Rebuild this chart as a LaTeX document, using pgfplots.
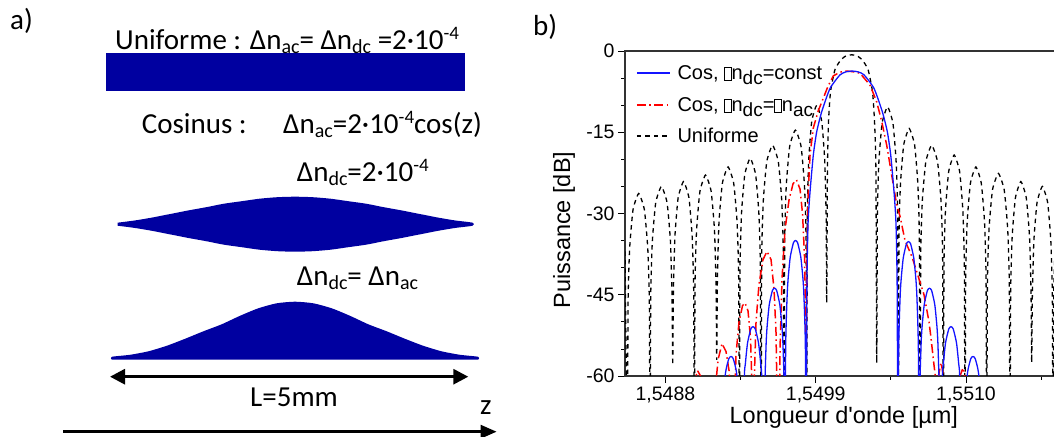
\documentclass[border=0pt]{standalone}
\usepackage{pgfplots}
\pgfplotsset{compat=1.18}
\usepackage{fontspec}
\setmainfont{Liberation Sans}
\newfontfamily\calibri{Carlito}
\usetikzlibrary{arrows.meta}
\definecolor{navy}{RGB}{0,0,160}
\definecolor{cblue}{RGB}{20,20,255}
\definecolor{cred}{RGB}{255,0,0}
\newcommand{\gbox}{{\setlength\fboxrule{0.45bp}\setlength\fboxsep{0pt}\fbox{\rule{0pt}{13bp}\hspace{6.5bp}}}}
\newcommand{\lsub}[1]{\raisebox{-5bp}{\fontsize{19bp}{19bp}\selectfont #1}}
\newcommand{\csub}[1]{\raisebox{-4bp}{\fontsize{20bp}{20bp}\selectfont #1}}
\newcommand{\csup}[1]{\raisebox{10bp}{\fontsize{19bp}{19bp}\selectfont #1}}
\begin{document}
\begin{tikzpicture}
\useasboundingbox (0,0) rectangle (1054bp,437bp);
% ---------------- panel a ----------------
\begin{axis}[at={(0bp,0bp)}, anchor=south west, scale only axis,
  width=530bp, height=437bp, xmin=0, xmax=530, ymin=0, ymax=437,
  y dir=reverse, hide axis, clip=false]
\addplot[fill=navy, draw=none] coordinates {(106,53.5) (465,53.5) (465,91.5) (106,91.5)} --cycle;
\addplot[fill=navy, draw=none, smooth, tension=0.4] coordinates {
(117.5,222.7) (135.25,220.4) (153,217.4) (170.75,213.9) (188.5,210.4) (206.25,207.2)
(224,203.7) (241.75,201.2) (259.5,198.7) (277.25,197.2) (295,196.7) (312.75,197.2)
(330.5,198.7) (348.25,201.2) (366,203.7) (383.75,207.2) (401.5,210.4) (419.25,213.9)
(437,217.4) (454.75,220.4) (472.5,222.7) (472.5,225.7) (454.75,228) (437,231)
(419.25,234.5) (401.5,238) (383.75,241.2) (366,244.7) (348.25,247.2) (330.5,249.7)
(312.75,251.2) (295,251.7) (277.25,251.2) (259.5,249.7) (241.75,247.2) (224,244.7)
(206.25,241.2) (188.5,238) (170.75,234.5) (153,231) (135.25,228) (117.5,225.7)} --cycle;
\addplot[fill=navy, draw=none, smooth, tension=0.4] coordinates {
(111.7,359.5) (111.7,356.8) (130,354.8) (148.4,351.3) (166.7,345.8) (185,338.8) (203.4,331.3)
(221.7,324.3) (240,315.8) (258.3,308.3) (276.7,303.3) (295,301.7) (313.3,303.3)
(331.7,308.3) (350,315.8) (368.3,324.3) (386.7,331.3) (405,338.8) (423.3,345.8)
(441.6,351.3) (460,354.8) (478.3,356.8) (478.3,359.5)} --cycle;
\addplot[line width=3bp, {Triangle[length=15bp,width=15bp]}-{Triangle[length=15bp,width=15bp]}]
  coordinates {(110,376.7) (468.3,376.7)};
\addplot[line width=3bp, -{Triangle[length=16bp,width=13bp]}]
  coordinates {(63.3,431.7) (496.7,431.7)};
\begin{scope}[every node/.style={anchor=base west, inner sep=0pt, font=\calibri\fontsize{29bp}{32bp}\selectfont}]
\node at (axis cs:10,30) {a)};
\node at (axis cs:533,36) {b)};
\node at (axis cs:115,50) {Uniforme : Δn\csub{ac}= Δn\csub{dc} =2·10\csup{-4}};
\node at (axis cs:141.7,133) {Cosinus :};
\node at (axis cs:283,133) {Δn\csub{ac}=2·10\csup{-4}cos(z)};
\node at (axis cs:296.7,181.7) {Δn\csub{dc}=2·10\csup{-4}};
\node at (axis cs:296.7,285) {Δn\csub{dc}= Δn\csub{ac}};
\node at (axis cs:250,406.7) {L=5mm};
\node at (axis cs:480,414) {z};
\end{scope}
\end{axis}
% ---------------- panel b ----------------
\begin{axis}[at={(625bp,61bp)}, anchor=south west, scale only axis,
  width=435bp, height=325bp,
  xmin=-1.396, xmax=1.788, ymin=-60, ymax=0,
  xtick={-1.1,0,1.1}, xticklabels={{1,5488},{1,5499},{1,5510}},
  minor xtick={-0.55,0.55,1.65},
  ytick={-60,-45,-30,-15,0}, yticklabels={-60,-45,-30,-15,0},
  minor ytick={-55,-50,-40,-35,-25,-20,-10,-5},
  tick align=outside, xtick pos=left, ytick pos=left,
  major tick length=7bp, minor tick length=4bp,
  tick style={black, line width=0.8bp},
  axis line style={line width=1.2bp, black!80},
  ticklabel style={font=\fontsize{19.5bp}{20bp}\selectfont},
  xlabel={Longueur d\textquotesingle onde [µm]}, ylabel={Puissance [dB]},
  label style={font=\fontsize{23.5bp}{24bp}\selectfont},
  xlabel style={at={(axis description cs:0.503,-0.129)}, anchor=center},
  ylabel style={at={(axis description cs:-0.140,0.449)}, anchor=center},
]
\addplot[forget plot, color=black, line width=1.3bp, dash pattern=on 4.5bp off 4bp, smooth, tension=0.3] table {
x y
-1.396 -37
-1.3788 -75
-1.3738 -46.8
-1.3622 -36.5
-1.3373 -29.3
-1.2957 -26.3
-1.2542 -29.3
-1.2293 -36.5
-1.2177 -46.8
-1.2127 -75
-1.2077 -45.5
-1.1961 -35.2
-1.1712 -28.0
-1.1297 -25.0
-1.0881 -28.0
-1.0632 -35.2
-1.0516 -45.5
-1.0466 -58
-1.0419 -44.6
-1.0308 -34.3
-1.0071 -27.1
-0.9676 -24.1
-0.9280 -27.1
-0.9043 -34.3
-0.8932 -44.6
-0.8885 -75
-0.8836 -43.4
-0.8721 -33.1
-0.8475 -25.9
-0.8065 -22.9
-0.7656 -25.9
-0.7410 -33.1
-0.7295 -43.4
-0.7246 -57
-0.7196 -41.9
-0.7081 -31.6
-0.6832 -24.4
-0.6419 -21.4
-0.6005 -24.4
-0.5757 -31.6
-0.5641 -41.9
-0.5591 -75
-0.5543 -40.3
-0.5432 -30.0
-0.5194 -22.8
-0.4797 -19.8
-0.4400 -22.8
-0.4162 -30.0
-0.4051 -40.3
-0.4003 -75
-0.3953 -37.9
-0.3835 -27.6
-0.3582 -20.4
-0.3161 -17.4
-0.2741 -20.4
-0.2488 -27.6
-0.2370 -37.9
-0.2320 -75
-0.2270 -35.1
-0.2154 -24.8
-0.1905 -17.6
-0.1490 -14.6
-0.1074 -17.6
-0.0825 -24.8
-0.0709 -35.1
-0.0659 -75
-0.0615 -30.5
-0.0513 -20.2
-0.0293 -13.0
0.0073 -10.0
0.0439 -13.0
0.0659 -20.2
0.0761 -30.5
0.0805 -46.5
0.0856 -22
0.0937 -13
0.1083 -7.5
0.1412 -3.4
0.1852 -1.6
0.2218 -0.9
0.2635 -0.7
0.3023 -0.9
0.3389 -1.6
0.3828 -3.4
0.4157 -7.5
0.4303 -13
0.4406 -22
0.4464 -57.6
0.4511 -30.8
0.4622 -20.5
0.4859 -13.3
0.5255 -10.3
0.5650 -13.3
0.5887 -20.5
0.5998 -30.8
0.6045 -75
0.6093 -34.8
0.6204 -24.5
0.6442 -17.3
0.6839 -14.3
0.7236 -17.3
0.7474 -24.5
0.7585 -34.8
0.7633 -75
0.7684 -37.9
0.7804 -27.6
0.8060 -20.4
0.8486 -17.4
0.8913 -20.4
0.9168 -27.6
0.9288 -37.9
0.9339 -75
0.9387 -39.7
0.9498 -29.4
0.9736 -22.2
1.0133 -19.2
1.0530 -22.2
1.0768 -29.4
1.0879 -39.7
1.0927 -75
1.0975 -41.9
1.1086 -31.6
1.1324 -24.4
1.1721 -21.4
1.2118 -24.4
1.2356 -31.6
1.2467 -41.9
1.2515 -75
1.2566 -43.1
1.2686 -32.8
1.2941 -25.6
1.3368 -22.6
1.3794 -25.6
1.4049 -32.8
1.4169 -43.1
1.4220 -75
1.4268 -44.6
1.4379 -34.3
1.4617 -27.1
1.5014 -24.1
1.5411 -27.1
1.5649 -34.3
1.5760 -44.6
1.5808 -57.5
1.5855 -45.5
1.5964 -35.2
1.6198 -28.0
1.6588 -25.0
1.6977 -28.0
1.7211 -35.2
1.7320 -45.5
1.7367 -75
1.7415 -46
1.7526 -35.7
1.7770 -28.5
1.7900 -26.5
};
\addplot[forget plot, color=cred, line width=1.5bp, dash pattern=on 9bp off 3.5bp on 1.5bp off 3.5bp] table {
x y
-0.9346 -75
-0.8980 -62
-0.8651 -59
-0.8321 -60.5
-0.7955 -66
-0.7590 -90
-0.7516 -75
-0.7370 -63
-0.7150 -57
-0.6858 -54
-0.6565 -55.5
-0.6345 -59
-0.6162 -66
-0.6052 -90
-0.5979 -68
-0.5833 -56
-0.5613 -50
-0.5357 -47
-0.5174 -46.5
-0.4955 -48
-0.4772 -53
-0.4662 -62
-0.4589 -90
-0.4516 -62
-0.4369 -50
-0.4150 -43
-0.3857 -38.5
-0.3564 -37
-0.3271 -38.5
-0.3052 -44
-0.2906 -52
-0.2796 -70
-0.2723 -90
-0.2613 -55
-0.2466 -42
-0.2247 -33
-0.1954 -27.5
-0.1661 -24.5
-0.1405 -23.8
-0.1149 -25.5
-0.0966 -30
-0.0820 -38
-0.0695 -55
-0.0637 -38
-0.0564 -27
-0.0417 -19.2
-0.0176 -14.2
0.0190 -11
0.0556 -8.7
0.0900 -6.5
0.1288 -4.6
0.1778 -3.9
0.2218 -3.7
0.2657 -3.8
0.3242 -4.1
0.3974 -6.3
0.4464 -9.4
0.4830 -13
0.5196 -17.4
0.5679 -24.7
0.5928 -28.4
0.6170 -30.5
0.6536 -35
0.7048 -38
0.7487 -41.5
0.7926 -45
0.8292 -50
0.8438 -53
0.8658 -58
0.8841 -62
0.8987 -60
0.9170 -57.5
0.9353 -60
0.9536 -70
1.0268 -68
1.0561 -60
1.0780 -58.5
1.1000 -61
1.1146 -70
1.1293 -90
};
\addplot[forget plot, color=cblue, draw=cblue, line width=1.3bp, smooth, tension=0.35] table {
x y
-0.7004 -90
-0.6843 -66.6
-0.6601 -59.4
-0.6360 -56.8
-0.6199 -56.4
-0.6038 -56.8
-0.5796 -59.4
-0.5555 -66.6
-0.5394 -90
-0.5233 -61.1
-0.5152 -57.8
-0.4991 -53.9
-0.4750 -51.3
-0.4589 -50.9
-0.4428 -51.3
-0.4186 -53.9
-0.4025 -57.8
-0.3945 -61.1
-0.3784 -90
-0.3740 -64.3
-0.3630 -54.0
-0.3553 -50.7
-0.3400 -46.8
-0.3169 -44.2
-0.3015 -43.8
-0.2862 -44.2
-0.2631 -46.8
-0.2477 -50.7
-0.2401 -54.0
-0.2291 -64.3
-0.2247 -90
-0.2203 -55.5
-0.2093 -45.2
-0.2016 -41.9
-0.1863 -38.0
-0.1632 -35.4
-0.1478 -35.0
-0.1325 -35.4
-0.1094 -38.0
-0.0940 -41.9
-0.0864 -45.2
-0.0754 -55.5
-0.0710 -90
-0.0651 -45
-0.0564 -32
-0.0417 -26
-0.0176 -19.2
0.0073 -14.9
0.0439 -11.2
0.1047 -6.9
0.1778 -4.4
0.2218 -3.85
0.2657 -3.7
0.3096 -3.85
0.3535 -4.4
0.4267 -6.9
0.4874 -11.2
0.5240 -14.9
0.5489 -19.2
0.5731 -26
0.5877 -32
0.5965 -45
0.6023 -90
0.6067 -55.7
0.6177 -45.4
0.6254 -42.1
0.6407 -38.2
0.6638 -35.6
0.6792 -35.2
0.6945 -35.6
0.7176 -38.2
0.7330 -42.1
0.7406 -45.4
0.7516 -55.7
0.7560 -90
0.7604 -64.3
0.7714 -54.0
0.7791 -50.7
0.7944 -46.8
0.8175 -44.2
0.8329 -43.8
0.8482 -44.2
0.8713 -46.8
0.8867 -50.7
0.8943 -54.0
0.9053 -64.3
0.9097 -90
0.9258 -61.1
0.9339 -57.8
0.9500 -53.9
0.9741 -51.3
0.9902 -50.9
1.0063 -51.3
1.0305 -53.9
1.0466 -57.8
1.0546 -61.1
1.0707 -90
1.0868 -66.6
1.1110 -59.4
1.1351 -56.8
1.1512 -56.4
1.1673 -56.8
1.1915 -59.4
1.2156 -66.6
1.2317 -90
};
% legend samples
\addplot[forget plot, color=cblue, line width=1.3bp] coordinates {(-1.310,-4.06) (-1.066,-4.06)};
\addplot[forget plot, color=cred, line width=1.6bp, dash pattern=on 9bp off 3.5bp on 1.5bp off 3.5bp] coordinates {(-1.310,-9.97) (-1.066,-9.97)};
\addplot[forget plot, color=black, line width=1.3bp, dash pattern=on 4.5bp off 4bp] coordinates {(-1.310,-15.69) (-1.066,-15.69)};
\begin{scope}[every node/.style={anchor=base west, inner sep=0pt, font=\fontsize{20bp}{21bp}\selectfont}]
\node at (axis cs:-1.013,-5.35) {Cos, \gbox n\lsub{dc}=const};
\node at (axis cs:-1.013,-11.26) {Cos, \gbox n\lsub{dc}=\gbox n\lsub{ac}};
\node at (axis cs:-1.013,-16.98) {Uniforme};
\end{scope}
\end{axis}
\end{tikzpicture}
\end{document}
